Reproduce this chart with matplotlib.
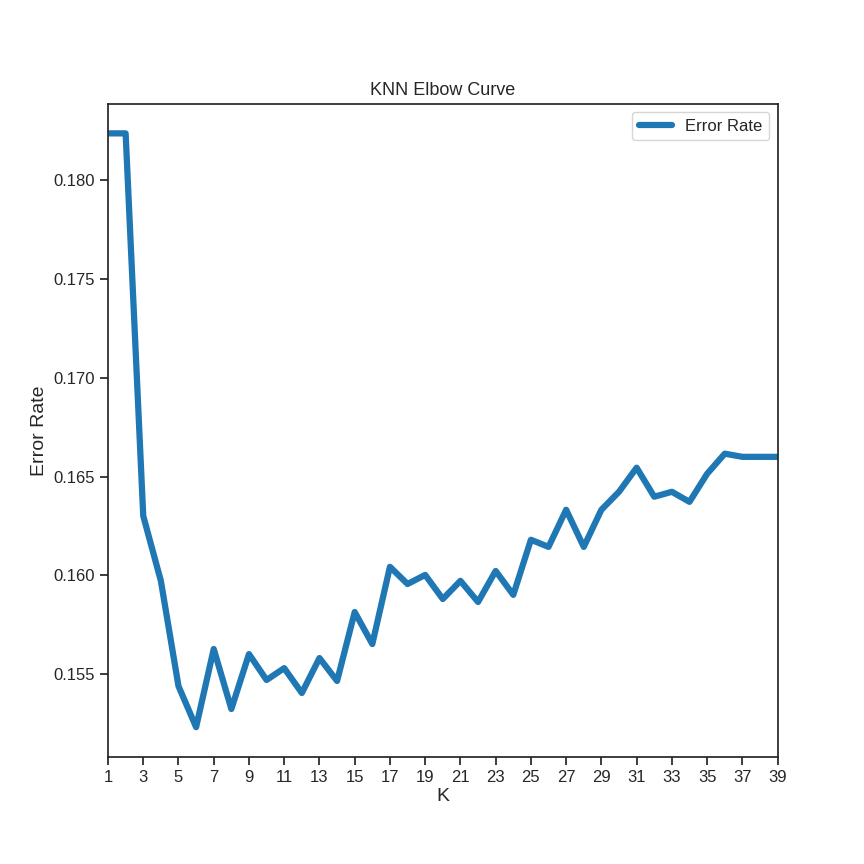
import matplotlib
matplotlib.use("Agg")
import matplotlib.pyplot as plt
import seaborn as sns

sns.set_style("ticks")
plt.rcParams['font.family'] = ['Liberation Sans', 'DejaVu Sans']

k_values = list(range(1, 40))
error_rate = [0.18238, 0.18238, 0.16301, 0.15972, 0.15439, 0.15231, 0.15627, 0.15323,
              0.15601, 0.15470, 0.15530, 0.15404, 0.15581, 0.15465, 0.15814, 0.15652,
              0.16043, 0.15956, 0.16002, 0.15880, 0.15972, 0.15865, 0.16022, 0.15901,
              0.16180, 0.16144, 0.16332, 0.16144, 0.16332, 0.16423, 0.16545, 0.16398,
              0.16423, 0.16372, 0.16514, 0.16616, 0.16600, 0.16600, 0.16600]
x_ticks = list(range(1, 40, 2))

fig, ax = plt.subplots(figsize=(8.64, 8.64), dpi=100)
fig.subplots_adjust(left=0.125, right=0.9, top=0.88, bottom=0.124)
ax.plot(k_values, error_rate, color="#1f77b4", linewidth=4.5, label="Error Rate")
ax.set_xlim(1, 39)
ax.set_xticks(x_ticks)
ax.tick_params(labelsize=12, width=1.25, length=6, color="#262626")
for s in ax.spines.values():
    s.set_linewidth(1.25)
    s.set_color("#262626")
ax.set_title("KNN Elbow Curve", fontsize=13)
ax.set_xlabel("K", fontsize=14, labelpad=2)
ax.set_ylabel("Error Rate", fontsize=14)
ax.legend(loc="upper right", fontsize=12)
fig.savefig("out.png", dpi=100)
